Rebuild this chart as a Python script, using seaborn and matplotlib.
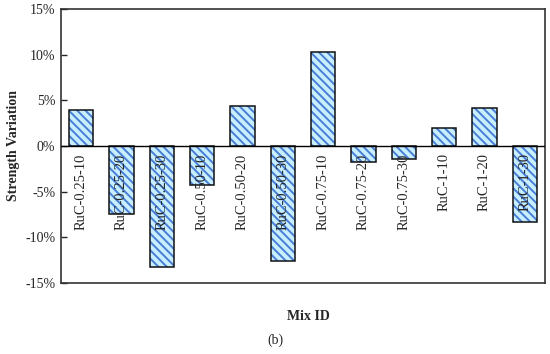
import matplotlib
matplotlib.use('Agg')
import matplotlib.pyplot as plt
import seaborn as sns
import pandas as pd
from matplotlib.ticker import FuncFormatter

# values (percent)
mix_ids = ['RuC-0.25-10', 'RuC-0.25-20', 'RuC-0.25-30',
           'RuC-0.50-10', 'RuC-0.50-20', 'RuC-0.50-30',
           'RuC-0.75-10', 'RuC-0.75-20', 'RuC-0.75-30',
           'RuC-1-10', 'RuC-1-20', 'RuC-1-30']
variation = [3.9, -7.5, -13.2, -4.3, 4.4, -12.6, 10.3, -1.8, -1.4, 2.0, 4.2, -8.3]
y_ticks = [-15, -10, -5, 0, 5, 10, 15]

df = pd.DataFrame({'mix': mix_ids, 'var': variation})

sns.set_style('white')
plt.rcParams['font.family'] = ['Liberation Serif', 'DejaVu Serif']
plt.rcParams['hatch.linewidth'] = 1.4

fig = plt.figure(figsize=(5.5, 3.54), dpi=100)
ax = fig.add_axes([0.111, 0.2006, 0.88, 0.774])

# hatched fill
sns.barplot(data=df, x='mix', y='var', ax=ax, color='#c8efff',
            edgecolor='#4a7ed6', linewidth=0, hatch='\\' * 4, width=0.6,
            errorbar=None, saturation=1)
n = len(ax.patches)
# black outlines
sns.barplot(data=df, x='mix', y='var', ax=ax, color='white',
            edgecolor='#111111', linewidth=1.1, width=0.6,
            errorbar=None, saturation=1)
for p in ax.patches[n:]:
    p.set_facecolor('none')

ax.axhline(0, color='black', lw=1.0, zorder=5)
ax.set_ylim(-15, 15)
ax.set_yticks(y_ticks)
ax.yaxis.set_major_formatter(FuncFormatter(lambda v, _: f'{v:.0f}%'))
ax.tick_params(axis='y', direction='in', length=4, width=1, labelsize=10, pad=4, left=True)
ax.set_xticks([])
ax.set_xlabel('')
ax.set_ylabel('Strength Variation', fontsize=10, fontweight='bold', labelpad=4)

for i, lab in enumerate(mix_ids):
    ax.text(i, -0.8, lab, rotation=90, ha='center', va='top', fontsize=10.5, zorder=6)

for s in ax.spines.values():
    s.set_visible(True)
    s.set_color('#333333')
    s.set_linewidth(1.2)

fig.text(0.561, 0.105, 'Mix ID', ha='center', va='center', fontsize=10, fontweight='bold')
fig.text(0.5, 0.04, '(b)', ha='center', va='center', fontsize=10)

fig.savefig('out.png', dpi=100, facecolor='white')
